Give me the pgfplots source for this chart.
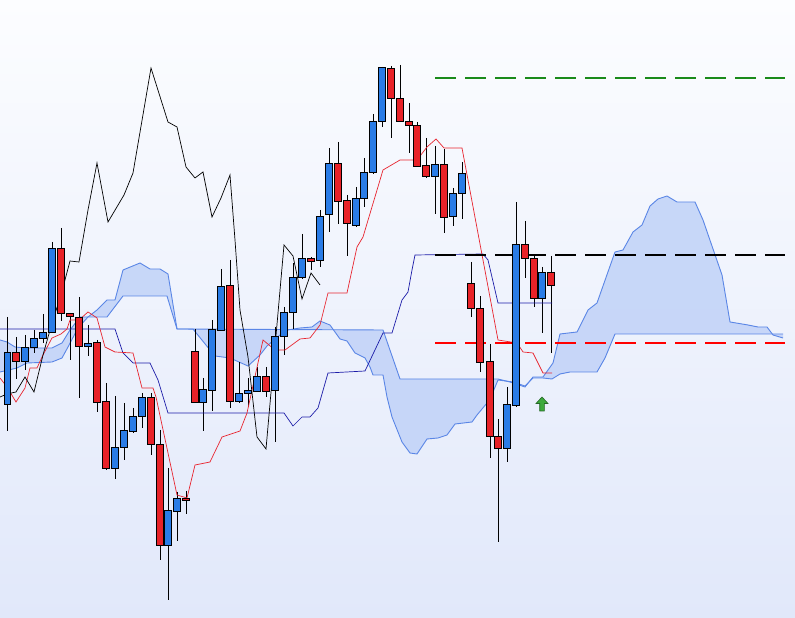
\documentclass[border=0pt]{standalone}
\usepackage{pgfplots}
\usepackage{pgfplotstable}
\pgfplotsset{compat=1.18}
\usepgfplotslibrary{fillbetween}

\definecolor{bgtop}{RGB}{252,253,255}
\definecolor{bgbot}{RGB}{225,232,250}
\definecolor{cred}{RGB}{232,34,40}
\definecolor{cblue}{RGB}{42,124,230}
\definecolor{cloudfill}{RGB}{195,212,248}
\definecolor{cloudline}{RGB}{90,134,230}
\definecolor{navy}{RGB}{28,28,168}
\definecolor{tline}{RGB}{232,37,47}
\definecolor{dgreen}{RGB}{26,138,26}
\definecolor{agreen}{RGB}{61,170,61}

% candle body: rectangle from top (mark position) down by body height
\pgfdeclareplotmark{candle}{%
  \pgfpathrectangle{\pgfpoint{-3.3pt}{0pt}}{\pgfpoint{6.6pt}{-\bh pt}}%
  \pgfusepathqfillstroke}
\pgfdeclareplotmark{uparrow}{%
  \pgfpathmoveto{\pgfqpoint{0pt}{7pt}}%
  \pgfpathlineto{\pgfqpoint{6pt}{0.5pt}}%
  \pgfpathlineto{\pgfqpoint{2.3pt}{0.5pt}}%
  \pgfpathlineto{\pgfqpoint{2.3pt}{-7pt}}%
  \pgfpathlineto{\pgfqpoint{-2.3pt}{-7pt}}%
  \pgfpathlineto{\pgfqpoint{-2.3pt}{0.5pt}}%
  \pgfpathlineto{\pgfqpoint{-6pt}{0.5pt}}%
  \pgfpathclose
  \pgfusepathqfillstroke}

% x, high, low, body top, body bottom (screen units, y grows downward)
\pgfplotstableread{
x hi lo top bot
-1.5 357 406 357 406
16 337 379 353 362
61 228 321 249 314
70 313 360 314 317
79 297 398 318 347
97 340 412 343 403
106 383 470 402 469
151 393 455 398 445
160 430 560 445 546
186 491 514 499 501
195 329 403 352 403
230 260 408 286 402
266 367 397 377 392
311 257 270 259 262
338 142 224 164 202
347 195 256 201 224
391 66 138 69 99
400 65 122 99 122
409 103 153 122 126
417 122 167 126 167
426 138 178 166 177
444 149 233 165 218
471 262 317 284 309
480 296 372 309 363
490 344 458 362 437
498 419 542 437 449
525 221 278 245 259
534 255 307 259 299
551 256 353 273 286
}\redtab

\pgfplotstableread{
x hi lo top bot
7.5 317 431 353 405
25 335 370 348 362
34 330 353 339 348
43 314 343 333 339
52 242 333 249 333
88 325 356 344 347
115 396 479 448 469
124 403 460 431 448
133 408 433 417 432
142 393 428 398 417
168 468 600 511 546
177 492 541 499 512
203 378 431 390 403
212 320 411 330 391
221 269 331 287 331
239 362 403 394 402
248 378 407 391 394
257 367 392 377 392
275 327 442 337 391
284 307 355 313 337
293 263 329 278 313
302 234 279 259 278
320 210 267 217 261
329 148 232 164 215
356 187 227 199 226
364 158 207 173 199
373 114 174 122 173
382 67 127 68 122
435 146 214 165 177
453 188 226 194 217
462 162 219 174 194
507 387 462 405 449
516 202 407 245 406
542 267 333 273 299
}\bluetab

\begin{document}
\begin{tikzpicture}
\begin{axis}[
  scale only axis, width=795pt, height=618pt,
  xmin=0, xmax=795, ymin=0, ymax=618, y dir=reverse,
  axis line style={draw=none}, xtick=\empty, ytick=\empty,
  axis background/.style={top color=bgtop, bottom color=bgbot},
]
% cloud
\addplot[name path=spanA, cloudline, line width=0.9pt] coordinates {
(0,372)(17,368)(27,363)(52,362)(62,358)(68,347)(78,328)(88,317)(107,317)
(123,296)(167,296)(177,329)(193,329)(210,350)(215,356)(230,358)(248,366)
(260,355)(267,346)(280,335)(288,330)(300,328)(312,327)(320,321)(330,325)
(340,339)(347,341)(355,353)(365,358)(370,367)(373,375)(383,375)(387,397)
(392,417)(402,442)(410,453)(417,454)(427,439)(438,438)(447,435)(455,424)
(472,422)(477,415)(487,403)(493,392)(498,380)(513,382)(525,386)(533,378)
(543,378)(552,379)(560,374)(570,372)(597,372)(605,358)(615,334)(783,334)};
\addplot[name path=spanB, cloudline, line width=0.9pt] coordinates {
(0,340)(7,342)(15,347)(25,348)(52,348)(62,343)(70,330)(80,317)(88,317)
(97,310)(107,300)(115,300)(123,270)(140,263)(150,269)(160,269)(168,274)
(177,329)(383,330)(400,379)(498,379)(510,382)(525,387)(533,377)(543,377)
(553,363)(560,334)(577,332)(588,310)(597,303)(615,252)(623,250)(633,232)
(642,225)(650,206)(658,199)(667,196)(677,202)(695,202)(703,220)(722,275)
(730,322)(748,325)(758,327)(767,327)(773,335)(783,338)};
\addplot[cloudfill, fill opacity=0.9] fill between[of=spanA and spanB];

% wicks
\addplot[draw=none, mark=none, error bars/.cd, y dir=plus, y explicit,
  error mark=none, error bar style={draw=black, line width=0.9pt}]
  table[x=x, y=hi, y error expr=\thisrow{lo}-\thisrow{hi}] \redtab;
\addplot[draw=none, mark=none, error bars/.cd, y dir=plus, y explicit,
  error mark=none, error bar style={draw=black, line width=0.9pt}]
  table[x=x, y=hi, y error expr=\thisrow{lo}-\thisrow{hi}] \bluetab;
% bodies
\addplot[only marks, mark=candle,
  visualization depends on={\thisrow{bot}-\thisrow{top}\as\bh},
  mark options={fill=cred, draw=black, line width=1pt}]
  table[x=x, y=top] \redtab;
\addplot[only marks, mark=candle,
  visualization depends on={\thisrow{bot}-\thisrow{top}\as\bh},
  mark options={fill=cblue, draw=black, line width=1pt}]
  table[x=x, y=top] \bluetab;

% kijun
\addplot[navy, line width=0.7pt] coordinates {
(0,329)(115,329)(123,353)(133,363)(150,363)(158,380)(168,413)(284,413)
(293,426)(302,417)(310,417)(318,408)(328,373)(365,371)(383,333)(392,333)
(402,300)(408,292)(412,270)(415,255)(483,254)(488,260)(498,303)(552,303)};
% tenkan
\addplot[tline, line width=0.7pt] coordinates {
(0,378)(7,387)(16,402)(25,388)(30,368)(37,368)(43,355)(52,338)(61,334)
(67,329)(70,320)(79,320)(88,312)(97,318)(105,347)(115,352)(133,353)
(142,388)(153,388)(156,397)(177,495)(187,498)(195,465)(210,462)(222,437)
(240,431)(247,413)(263,340)(275,350)(285,350)(300,339)(310,338)(320,325)
(328,293)(347,293)(357,247)(363,237)(383,170)(400,160)(417,160)(427,147)
(436,139)(444,148)(462,148)(498,340)(517,343)(523,352)(533,353)(543,373)
(552,373)};
% chikou
\addplot[black, line width=0.7pt] coordinates {
(0,397)(7,394)(16,392)(25,377)(34,392)(43,355)(52,323)(61,295)(70,261)
(79,262)(88,210)(97,163)(108,222)(124,195)(133,173)(151,68)(168,122)
(177,127)(186,167)(195,178)(203,172)(212,217)(221,198)(230,175)(235,240)
(240,310)(248,357)(257,437)(266,449)(284,245)(293,256)(302,299)(311,273)
(320,285)};

% levels
\addplot[dgreen, line width=2pt, dash pattern=on 21pt off 9pt] coordinates {(435,78)(785,78)};
\addplot[black, line width=2pt, dash pattern=on 21pt off 9pt] coordinates {(435,255)(785,255)};
\addplot[red, line width=2pt, dash pattern=on 21pt off 9pt] coordinates {(435,343)(785,343)};

% signal arrow
\addplot[only marks, mark=uparrow, mark options={fill=agreen, draw=agreen!60!black, line width=0.6pt}]
  coordinates {(542,404)};
\end{axis}
\pgfresetboundingbox
\path (current axis.south west) rectangle (current axis.north east);
\end{tikzpicture}
\end{document}
